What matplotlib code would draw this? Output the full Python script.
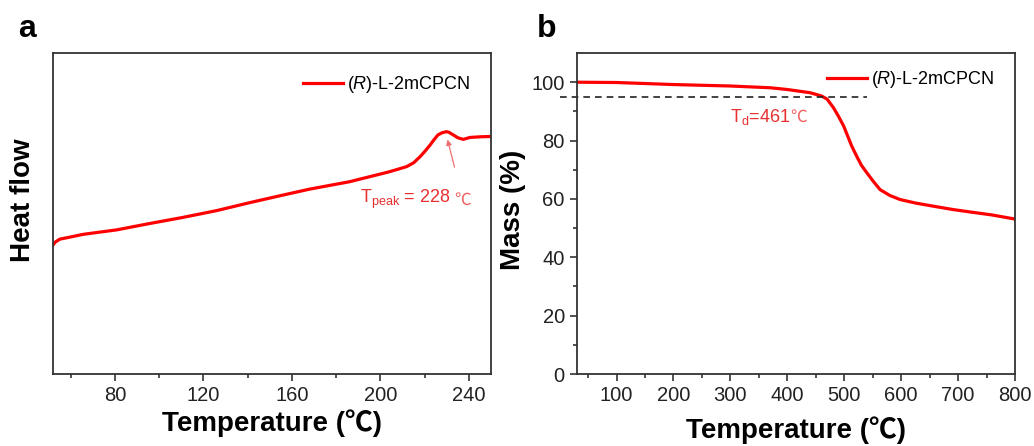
# DSC (a) and TGA (b) curves for (R)-L-2mCPCN
import numpy as np
import matplotlib
matplotlib.use('Agg')
import matplotlib.pyplot as plt

plt.rcParams['font.family'] = ['Liberation Sans', 'Noto Sans CJK SC', 'DejaVu Sans']
plt.rcParams['mathtext.fontset'] = 'custom'
plt.rcParams['mathtext.rm'] = 'Liberation Sans'
plt.rcParams['mathtext.it'] = 'Liberation Sans:italic'
plt.rcParams['mathtext.bf'] = 'Liberation Sans:bold'

# ------------------------------------------------------
# data

# (a) DSC, heat flow in arbitrary units
dsc_temp = [52, 53, 55, 60, 65.5, 80.7, 95.8, 110.8, 125.9, 141, 155, 168, 186,
            204, 211.8, 215, 217.9, 220, 222.4, 224, 226, 228, 229.9, 231,
            232.9, 235, 237.4, 240.5, 245, 249.5]
dsc_heat = [0.402, 0.411, 0.420, 0.427, 0.435, 0.449, 0.469, 0.488, 0.509, 0.534,
            0.556, 0.576, 0.599, 0.630, 0.646, 0.658, 0.677, 0.693, 0.713, 0.728,
            0.745, 0.752, 0.755, 0.753, 0.745, 0.736, 0.731, 0.737, 0.739, 0.740]

# (b) TGA, mass in %
tga_temp = [30, 100, 200, 300, 370, 400, 440, 460, 470, 481, 490, 499, 506, 513,
            522, 530, 540, 550, 563, 580, 598, 625, 657, 690, 715, 760, 800]
tga_mass = [100, 99.9, 99.2, 98.7, 98.1, 97.5, 96.4, 95.3, 94.2, 91.3, 88.3,
            85.0, 81.6, 78.2, 74.6, 71.6, 68.9, 66.3, 63.2, 61.2, 59.8, 58.6,
            57.5, 56.4, 55.7, 54.5, 53.1]

label = '($\\it{R}$)-L-2mCPCN'
t_peak = 228
t_d = 461
red = '#ff0000'
# ------------------------------------------------------

fig = plt.figure(figsize=(10.34, 4.46), dpi=100)
ax1 = fig.add_axes([0.0513, 0.1614, 0.4236, 0.7197])
ax2 = fig.add_axes([0.5577, 0.1614, 0.4239, 0.7197])

for ax in (ax1, ax2):
    for s in ax.spines.values():
        s.set_linewidth(1.3)
        s.set_color('#333333')
    ax.tick_params(which='both', direction='out', labelsize=14.5, colors='#222222',
                   width=1.1, top=False, right=False)
    ax.tick_params(which='major', length=5)
    ax.tick_params(which='minor', length=3)


def degree_after(ax, txt, size, dx):
    # put the ℃ sign right after a mathtext label (mathtext has no glyph for it)
    ax.annotate('℃', xy=(1, 0), xycoords=txt, xytext=(dx, 1.2),
                textcoords='offset points', va='bottom', ha='left',
                color='#f06060', fontsize=size, family='Noto Sans CJK SC')


# ---------------- panel a
ax1.plot(dsc_temp, dsc_heat, color=red, lw=2.3, label=label)
ax1.set_xlim(52, 250)
ax1.set_ylim(0, 1)
ax1.set_xticks([80, 120, 160, 200, 240])
ax1.set_xticks([60, 100, 140, 180, 220], minor=True)
ax1.set_yticks([])
ax1.set_xlabel('Temperature (℃)', fontsize=20, fontweight='bold', labelpad=3)
ax1.set_ylabel('Heat flow', fontsize=20, fontweight='bold')
ax1.yaxis.set_label_coords(-0.04, 0.54)
ax1.legend(loc='upper right', frameon=False, fontsize=13, handlelength=2.2,
           handletextpad=0.2, borderaxespad=0.5, bbox_to_anchor=(0.99, 0.985))
ax1.annotate('', xy=(230, 0.739), xytext=(233.8, 0.636),
             arrowprops=dict(arrowstyle='-|>', color='#f07070', lw=0.9,
                             mutation_scale=8))
tp = ax1.text(0.70, 0.545, 'T$_{\\rm peak}$ = %d' % t_peak, transform=ax1.transAxes,
              color='#e83030', fontsize=13, va='center', ha='left')
degree_after(ax1, tp, 12, 3)
ax1.text(-0.08, 1.075, 'a', transform=ax1.transAxes, fontsize=23,
         fontweight='bold', va='center', ha='left')

# ---------------- panel b
ax2.plot(tga_temp, tga_mass, color=red, lw=2.3, label=label)
ax2.plot([0, 540], [95, 95], color='#222222', lw=1.2, ls=(0, (4, 3)), clip_on=False)
ax2.set_xlim(30, 800)
ax2.set_ylim(0, 110)
ax2.set_xticks(np.arange(100, 801, 100))
ax2.set_xticks(np.arange(50, 800, 100), minor=True)
ax2.set_yticks(np.arange(0, 101, 20))
ax2.set_yticks(np.arange(10, 101, 20), minor=True)
ax2.set_xlabel('Temperature (℃)', fontsize=20, fontweight='bold', labelpad=8)
ax2.set_ylabel('Mass (%)', fontsize=20, fontweight='bold')
ax2.yaxis.set_label_coords(-0.116, 0.51)
ax2.legend(loc='upper right', frameon=False, fontsize=13, handlelength=2.2,
           handletextpad=0.2, borderaxespad=0.5, bbox_to_anchor=(0.99, 1.0))
td = ax2.text(0.35, 0.80, 'T$_{\\rm d}$=%d' % t_d, transform=ax2.transAxes,
              color='#e83030', fontsize=13, va='center', ha='left')
degree_after(ax2, td, 12, 0)
ax2.text(-0.09, 1.075, 'b', transform=ax2.transAxes, fontsize=23,
         fontweight='bold', va='center', ha='left')

plt.savefig('out.png', dpi=100)
